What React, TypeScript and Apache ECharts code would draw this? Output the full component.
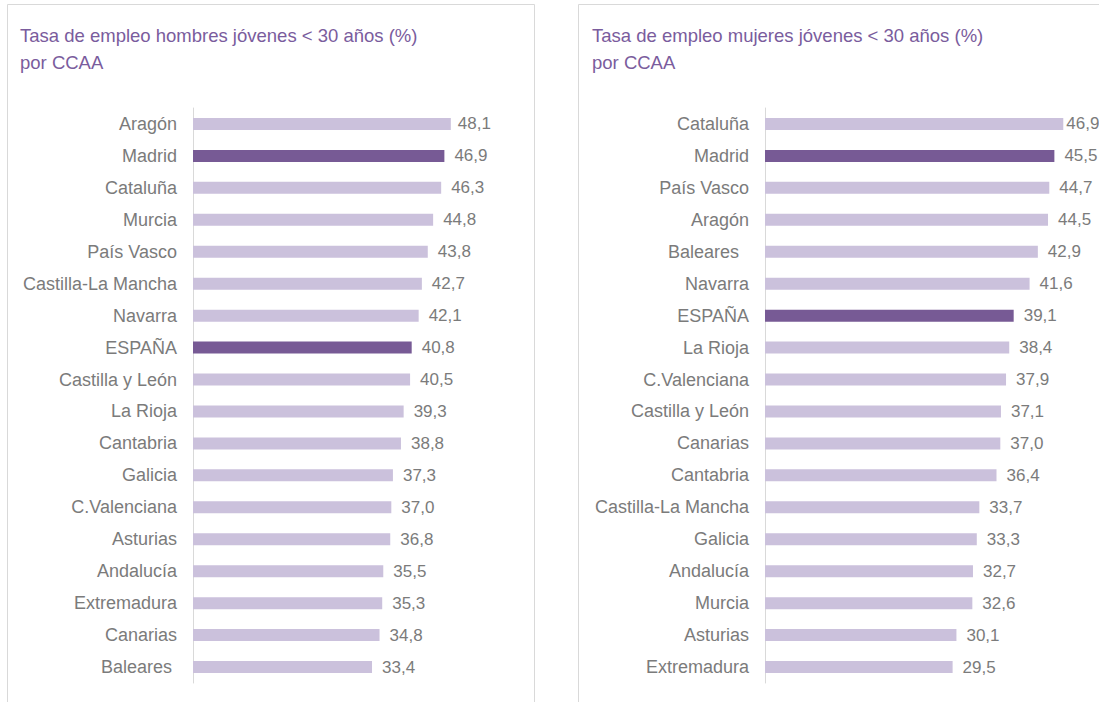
import React, { useEffect, useRef } from "react";
import * as echarts from "echarts";

const menCategories = [
  "Aragón", "Madrid", "Cataluña", "Murcia", "País Vasco", "Castilla-La Mancha",
  "Navarra", "ESPAÑA", "Castilla y León", "La Rioja", "Cantabria", "Galicia",
  "C.Valenciana", "Asturias", "Andalucía", "Extremadura", "Canarias", "Baleares ",
];
const menValues = [48.1, 46.9, 46.3, 44.8, 43.8, 42.7, 42.1, 40.8, 40.5, 39.3, 38.8, 37.3, 37.0, 36.8, 35.5, 35.3, 34.8, 33.4];

const womenCategories = [
  "Cataluña", "Madrid", "País Vasco", "Aragón", "Baleares  ", "Navarra",
  "ESPAÑA", "La Rioja", "C.Valenciana", "Castilla y León", "Canarias", "Cantabria",
  "Castilla-La Mancha", "Galicia", "Andalucía", "Murcia", "Asturias", "Extremadura",
];
const womenValues = [46.9, 45.5, 44.7, 44.5, 42.9, 41.6, 39.1, 38.4, 37.9, 37.1, 37.0, 36.4, 33.7, 33.3, 32.7, 32.6, 30.1, 29.5];

const highlighted = ["Madrid", "ESPAÑA"];
const titles = [
  "Tasa de empleo hombres jóvenes < 30 años (%)\npor CCAA",
  "Tasa de empleo mujeres jóvenes < 30 años (%)\npor CCAA",
];

const FONT = "'Liberation Sans', Arial, sans-serif";
const LIGHT = "#cbc1dc";
const DARK = "#775a95";
const GREY = "#7b7b7b";

export default function App() {
  const ref = useRef<HTMLDivElement>(null);
  useEffect(() => {
    if (!ref.current) return;
    const chart = echarts.init(ref.current, null, { renderer: "svg" });
    const mkData = (cats: string[], vals: number[], firstDistance: number) =>
      vals.map((v, i) => ({
        value: v,
        itemStyle: { color: highlighted.includes(cats[i].trim()) ? DARK : LIGHT },
        ...(i === 0 ? { label: { distance: firstDistance } } : {}),
      }));
    const yAxisBase = {
      type: "category" as const,
      inverse: true,
      axisLine: { show: true, lineStyle: { color: "#d9d9d9", width: 1 } },
      axisTick: { show: false },
      axisLabel: { color: GREY, fontSize: 18, fontFamily: FONT, margin: 16 },
    };
    const labelBase = {
      show: true,
      position: "right" as const,
      distance: 10,
      color: GREY,
      fontSize: 17,
      fontFamily: FONT,
      formatter: (p: any) => Number(p.value).toFixed(1).replace(".", ","),
    };
    const titleStyle = { color: "#7a5c9d", fontSize: 18.5, fontWeight: "normal" as const, fontFamily: FONT, lineHeight: 27 };
    chart.setOption({
      animation: false,
      backgroundColor: "#ffffff",
      title: [
        { text: titles[0], left: 20, top: 22, padding: 0, textStyle: titleStyle },
        { text: titles[1], left: 592, top: 22, padding: 0, textStyle: titleStyle },
      ],
      graphic: [
        { type: "rect", shape: { x: 7.5, y: 4.5, width: 527, height: 720 }, style: { fill: "none", stroke: "#d9d9d9", lineWidth: 1 }, silent: true },
        { type: "rect", shape: { x: 578.5, y: 4.5, width: 560, height: 720 }, style: { fill: "none", stroke: "#d9d9d9", lineWidth: 1 }, silent: true },
      ],
      grid: [
        { left: 193, top: 108, height: 575, width: 60 * 5.36 },
        { left: 765, top: 108, height: 575, right: 0 },
      ],
      xAxis: [
        { type: "value", min: 0, max: 60, show: false, gridIndex: 0 },
        { type: "value", min: 0, max: 334 / 6.36, show: false, gridIndex: 1 },
      ],
      yAxis: [
        { ...yAxisBase, gridIndex: 0, data: menCategories },
        { ...yAxisBase, gridIndex: 1, data: womenCategories },
      ],
      series: [
        {
          type: "bar", xAxisIndex: 0, yAxisIndex: 0, barWidth: 12,
          data: mkData(menCategories, menValues, 7), label: labelBase,
        },
        {
          type: "bar", xAxisIndex: 1, yAxisIndex: 1, barWidth: 12,
          data: mkData(womenCategories, womenValues, 3), label: labelBase,
        },
      ],
    });
    return () => chart.dispose();
  }, []);
  return (
    <div
      ref={ref}
      style={{ position: "fixed", left: 0, top: 0, width: 1099, height: 702 }}
    />
  );
}
